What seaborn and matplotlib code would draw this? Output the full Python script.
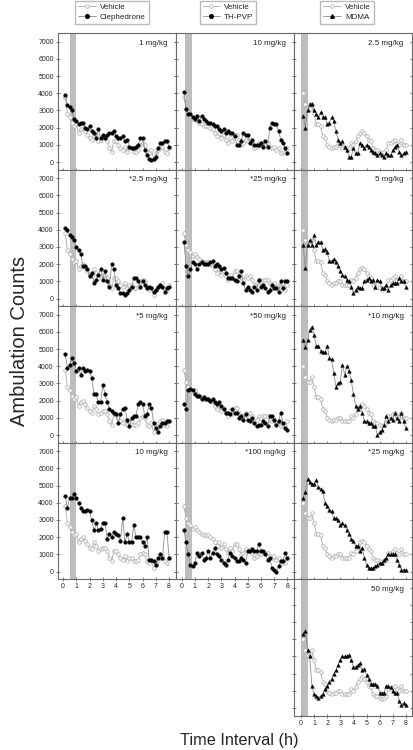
import numpy as np
import pandas as pd
import matplotlib
matplotlib.use('Agg')
import matplotlib.pyplot as plt
import seaborn as sns
from matplotlib.lines import Line2D

sns.set_style('ticks')
plt.rcParams['font.family'] = ['Liberation Sans', 'DejaVu Sans']

# 10 min bins over 8 h
time_h = np.arange(1, 49) / 6

# vehicle groups (one per drug column)
veh_cleph = [3800, 2800, 2600, 2300, 2100, 2200, 1700, 1900, 2000, 1800,
             1600, 1400, 1300, 1700, 1500, 1200, 1300, 1400, 1400, 1200,
             800, 600, 1200, 1200, 1000, 800, 700, 900, 600, 800,
             800, 600, 600, 700, 1000, 1100, 1000, 600, 500, 700,
             200, 500, 700, 800, 900, 600, 500, 800]
veh_thpvp = [3800, 3100, 2800, 2700, 2500, 2600, 2400, 2300, 2200, 2100,
             2100, 2100, 2000, 1900, 1700, 1500, 1700, 1400, 1600, 1300,
             1100, 1400, 1200, 1600, 1600, 1300, 1000, 1100, 1300, 1200,
             1300, 1100, 800, 900, 1100, 1000, 1100, 1100, 1100, 900,
             800, 900, 700, 800, 500, 600, 500, 800]
veh_mdma = [4000, 3400, 3100, 3100, 3400, 2800, 2200, 2200, 2100, 1500,
            1400, 1000, 900, 800, 900, 900, 1000, 1000, 800, 800,
            800, 800, 1100, 1000, 1200, 1500, 1700, 1800, 1700, 1500,
            1300, 1200, 800, 700, 700, 600, 500, 600, 700, 1100,
            1100, 1200, 1300, 1100, 1000, 1300, 1000, 1000]

# Clephedrone doses
cleph_1 = [3900, 3300, 3200, 3000, 2500, 2400, 2200, 2300, 2300, 2000,
           1900, 2100, 1800, 1700, 1400, 1900, 1400, 1600, 1400, 1600,
           1700, 1700, 1800, 1500, 1400, 1400, 1500, 1200, 1300, 900,
           800, 800, 900, 1000, 1400, 1400, 700, 400, 200, 100,
           200, 300, 800, 1100, 1100, 1200, 1200, 900]
cleph_2_5 = [4100, 4000, 3700, 3600, 3400, 3000, 2800, 2600, 1900, 1900,
             1700, 1300, 1500, 900, 1100, 1400, 1700, 1100, 1600, 1000,
             700, 2000, 1700, 800, 600, 300, 300, 200, 300, 500,
             700, 1200, 1200, 1000, 700, 1000, 800, 600, 700, 600,
             400, 500, 700, 800, 700, 400, 600, 700]
cleph_5 = [4700, 3900, 4100, 4500, 4200, 3700, 3900, 3500, 3900, 3700,
           3800, 3700, 3300, 2400, 2400, 1900, 1900, 2900, 2400, 1900,
           1500, 1400, 1300, 1200, 700, 1200, 1500, 1600, 900, 500,
           1000, 1100, 1100, 1800, 1900, 1800, 1100, 1200, 1800, 1600,
           700, 400, 200, 500, 700, 700, 800, 800]
cleph_10 = [4400, 3700, 4300, 4300, 4500, 4300, 4000, 3700, 3500, 3500,
            3600, 3500, 3000, 2400, 2800, 2400, 2500, 2800, 2800, 1900,
            2200, 2000, 2300, 2200, 2100, 1800, 3100, 1700, 2200, 1700,
            1700, 2700, 2000, 2000, 2000, 1700, 1500, 2000, 700, 700,
            600, 400, 800, 1000, 800, 2300, 2300, 800]

# TH-PVP doses
thpvp_10 = [4100, 3100, 2800, 2800, 2600, 2500, 2700, 2400, 2700, 2500,
            2400, 2300, 2300, 2200, 2100, 2100, 1900, 1800, 1900, 1700,
            1800, 1700, 1700, 1500, 1000, 1000, 1200, 1700, 1600, 1600,
            1100, 1300, 1000, 1000, 1000, 1100, 900, 1200, 900, 2000,
            2300, 2200, 2200, 1800, 1300, 1100, 800, 500]
thpvp_25 = [3300, 1900, 1300, 1700, 2100, 2000, 1700, 2000, 2100, 2000,
            2000, 2000, 2100, 2200, 1900, 2000, 1900, 1700, 1800, 1500,
            1200, 1200, 1200, 1100, 1000, 1300, 1600, 900, 500, 700,
            500, 400, 700, 500, 1100, 700, 800, 600, 400, 500,
            800, 600, 600, 400, 1000, 600, 1000, 1000]
thpvp_50 = [1800, 1500, 2600, 2700, 2600, 2400, 2300, 2300, 2100, 2200,
            2100, 2100, 2000, 2100, 1900, 1800, 1900, 1700, 1500, 1300,
            1300, 1200, 1500, 1300, 1300, 1000, 1100, 900, 1200, 900,
            800, 1000, 700, 500, 600, 600, 800, 700, 500, 1100,
            1100, 900, 600, 800, 1300, 700, 400, 300]
thpvp_100 = [2400, 1700, 1000, 400, 300, 500, 1100, 900, 1100, 700,
             800, 1200, 800, 1100, 1400, 1000, 900, 700, 500, 400,
             700, 1100, 900, 800, 600, 600, 800, 700, 500, 1200,
             1200, 1300, 1200, 1200, 1600, 1200, 1200, 1000, 700, 800,
             200, 100, 0, 300, 600, 600, 1100, 800]

# MDMA doses
mdma_2_5 = [2700, 2000, 3000, 3400, 3400, 3000, 2800, 2600, 2900, 2600,
            2600, 2200, 2300, 2600, 2400, 1800, 1300, 1100, 1200, 900,
            700, 300, 300, 800, 500, 500, 1100, 1000, 800, 1000,
            900, 700, 600, 500, 400, 500, 400, 300, 500, 400,
            400, 700, 900, 1000, 600, 400, 500, 600]
mdma_5 = [3100, 1800, 3100, 3400, 3100, 3700, 3100, 3300, 3300, 2800,
          2900, 2700, 2200, 2200, 2300, 2100, 1900, 1600, 1400, 1300,
          1100, 1000, 700, 300, 500, 700, 600, 600, 1000, 1100,
          1200, 1000, 1100, 700, 1100, 1000, 600, 600, 800, 500,
          800, 900, 900, 900, 1200, 1000, 1000, 700]
mdma_10 = [5500, 5100, 5500, 6100, 6300, 5800, 5200, 5200, 4900, 4800,
           4800, 5200, 4500, 4400, 3600, 2800, 3000, 3100, 4100, 3500,
           4000, 3700, 3200, 2400, 1700, 1500, 1700, 1300, 800, 800,
           700, 700, 500, 500, 0, 200, 300, 600, 1100, 800,
           1000, 900, 1300, 1000, 800, 1300, 800, 400]
mdma_25 = [4300, 4600, 5400, 5200, 5100, 5100, 5300, 4900, 4800, 4700,
           4000, 3800, 3600, 3500, 3100, 3100, 3000, 2700, 2800, 2700,
           2400, 2200, 1900, 1800, 1500, 1500, 1200, 1400, 800, 400,
           200, 200, 200, 300, 400, 500, 500, 700, 800, 1000,
           1000, 1000, 1000, 700, 400, 100, 100, 100]
mdma_50 = [4300, 4500, 3400, 3000, 1300, 800, 700, 600, 700, 800,
           1100, 1300, 1500, 1700, 2000, 2200, 2500, 2800, 3000, 3000,
           3000, 3100, 2800, 2400, 2400, 2500, 2600, 2200, 2300, 1900,
           1700, 1400, 1400, 1400, 1300, 900, 900, 900, 1300, 1300,
           1200, 1000, 900, 900, 400, 200, 300, 200]

drug_names = ['Clephedrone', 'TH-PVP', 'MDMA']
vehicles = [veh_cleph, veh_thpvp, veh_mdma]
markers = ['o', 'o', '^']
col_doses = [
    [('1 mg/kg', cleph_1), ('*2.5 mg/kg', cleph_2_5), ('*5 mg/kg', cleph_5), ('10 mg/kg', cleph_10)],
    [('10 mg/kg', thpvp_10), ('*25 mg/kg', thpvp_25), ('*50 mg/kg', thpvp_50), ('*100 mg/kg', thpvp_100)],
    [('2.5 mg/kg', mdma_2_5), ('5 mg/kg', mdma_5), ('*10 mg/kg', mdma_10), ('*25 mg/kg', mdma_25), ('50 mg/kg', mdma_50)],
]
inj_band = [(0.5, 1.0), (0.25, 0.75), (0.02, 0.56)]
xlims = [(-0.38, 8.52), (-0.43, 8.5), (-0.53, 8.47)]

W, H = 413, 750
fig = plt.figure(figsize=(W / 100, H / 100), dpi=100)

col_left = [58, 176, 294]
col_w = 118
row_top = 33
row_h = 136.5
veh_col = '#b4b4b4'
edge = '#6a6a6a'

for c in range(3):
    nrows = len(col_doses[c])
    for r, (label, vals) in enumerate(col_doses[c]):
        bottom = 1 - (row_top + row_h * (r + 1)) / H
        ax = fig.add_axes([col_left[c] / W, bottom, col_w / W, row_h / H])
        ax.axvspan(*inj_band[c], color='#bdbdbd', lw=0, zorder=0)
        df = pd.DataFrame({'t': time_h, 'veh': vehicles[c], 'drug': vals})
        sns.lineplot(data=df, x='t', y='veh', ax=ax, color=veh_col, lw=0.7,
                     marker='o', ms=2.6, mfc='white', mec=veh_col, mew=0.6)
        sns.lineplot(data=df, x='t', y='drug', ax=ax, color='#8c8c8c', lw=0.6,
                     marker=markers[c], ms=2.6, mfc='black', mec='black', mew=0.3)
        ax.set_xlim(*xlims[c])
        ax.set_ylim(-430, 7500)
        ax.set_xticks(range(9))
        ax.set_yticks(range(0, 7001, 1000))
        ax.set_xlabel('')
        ax.set_ylabel('')
        ax.tick_params(axis='both', direction='inout', length=3, width=0.6,
                       color=edge, labelsize=5, pad=1.5)
        ax.tick_params(axis='y', right=True)
        ax.tick_params(axis='x', top=False)
        if c != 0:
            ax.set_yticklabels([])
        last = (r == nrows - 1) or (c == 2 and r == 4)
        if not ((c < 2 and r == 3) or (c == 2 and r == 4)):
            ax.set_xticklabels([])
        for s in ax.spines.values():
            s.set_visible(True)
            s.set_color(edge)
            s.set_linewidth(0.8)
        ax.text(0.93, 0.925, label, transform=ax.transAxes, ha='right',
                va='center', fontsize=5.8)

# legends above each column
leg_x = [112, 228, 347]
for c in range(3):
    handles = [
        Line2D([], [], color=veh_col, lw=0.7, marker='o', ms=2.6,
               mfc='white', mec=veh_col, mew=0.6, label='Vehicle'),
        Line2D([], [], color='#8c8c8c', lw=0.6, marker=markers[c], ms=2.6,
               mfc='black', mec='black', label=drug_names[c]),
    ]
    fig.legend(handles=handles, loc='upper center',
               bbox_to_anchor=(leg_x[c] / W, 1 - 0.5 / H), fontsize=5.8,
               frameon=True, fancybox=False, edgecolor='#aaaaaa',
               borderpad=0.35, labelspacing=0.3, handlelength=2.2,
               handletextpad=0.5, borderaxespad=0)

fig.text(20 / W, 1 - 341 / H, 'Ambulation Counts', rotation=90,
         ha='center', va='center', fontsize=14.5)
fig.text(239 / W, 1 - 740 / H, 'Time Interval (h)', ha='center',
         va='center', fontsize=11.7)

fig.savefig('out.png', dpi=100)
